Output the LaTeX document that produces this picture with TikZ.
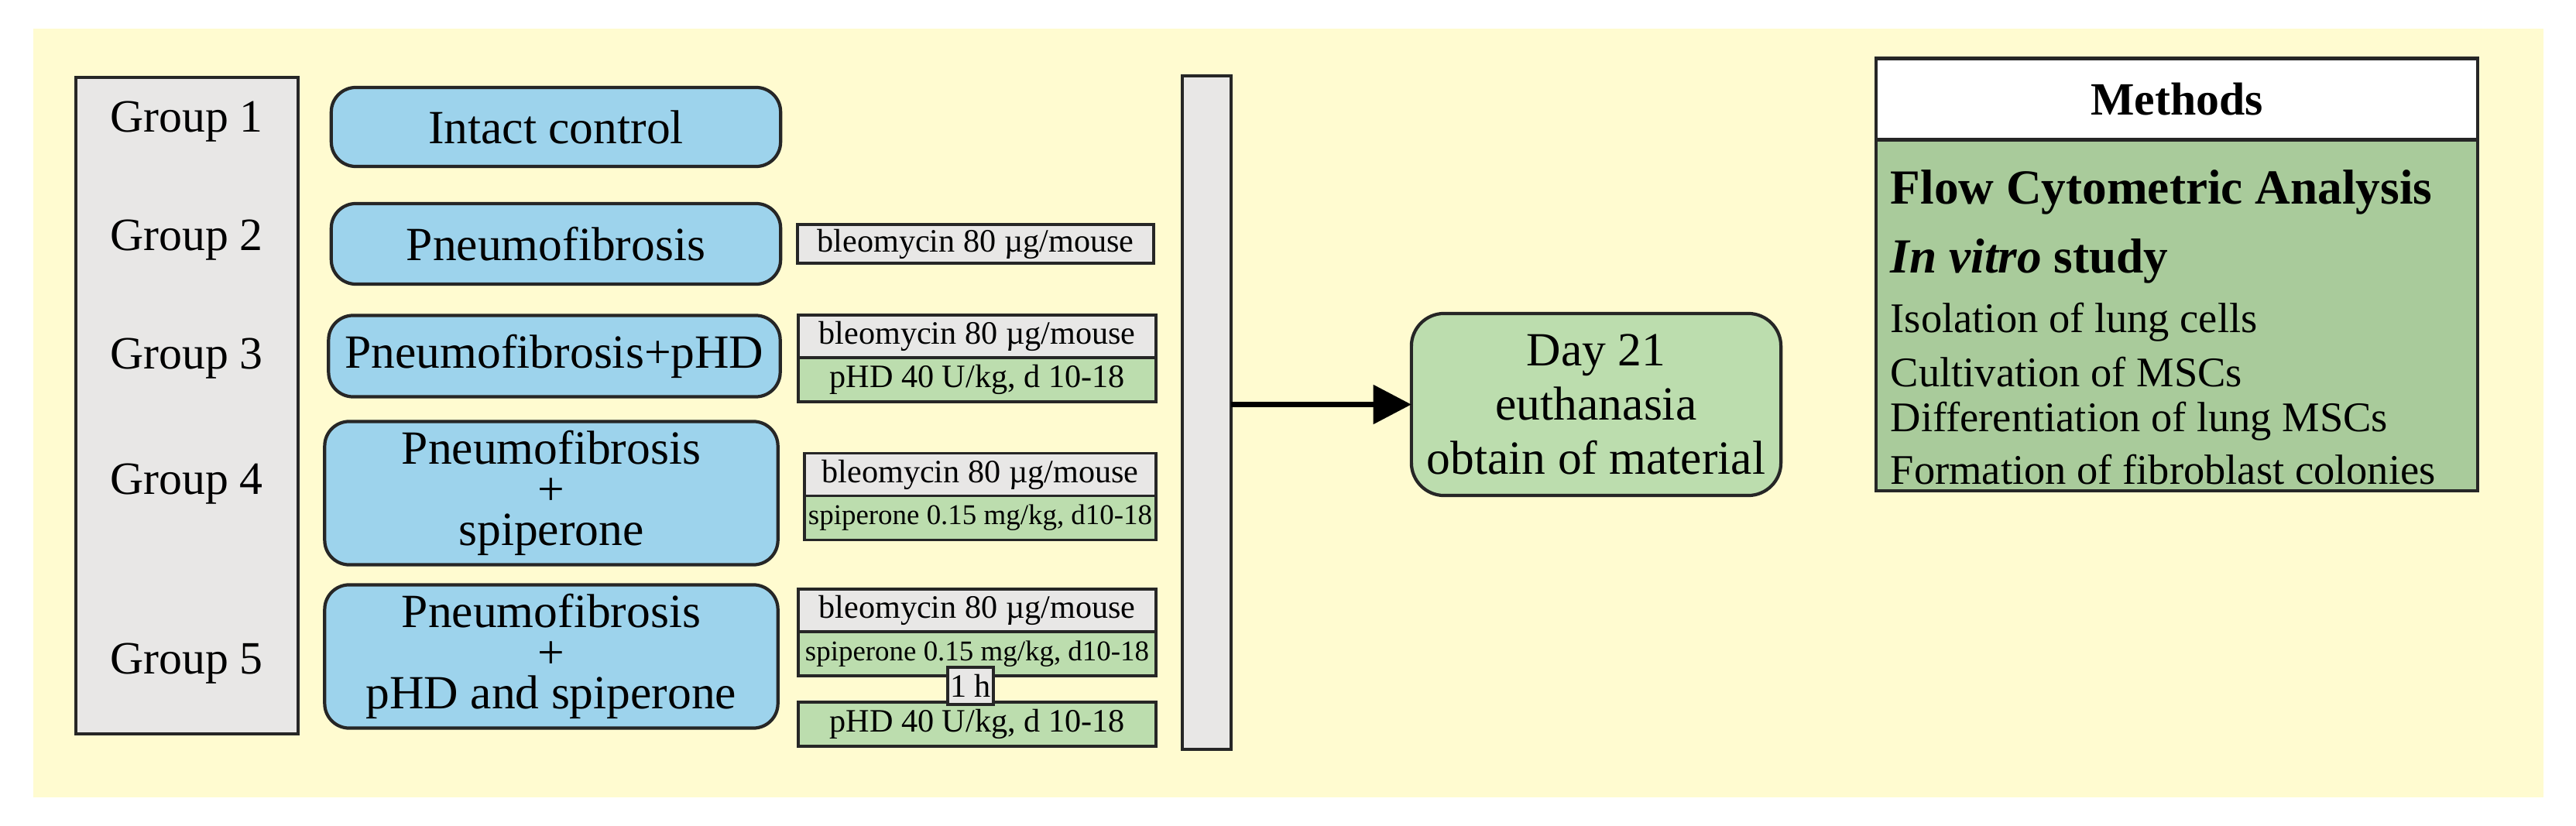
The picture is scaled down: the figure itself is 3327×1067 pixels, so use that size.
\documentclass[tikz,border=0pt]{standalone}
\usepackage{fontspec}
\setmainfont{Liberation Serif}
\usetikzlibrary{arrows.meta}
\definecolor{bgy}{HTML}{FFFBD0}
\definecolor{grayb}{HTML}{E8E7E6}
\definecolor{blueb}{HTML}{9DD3EC}
\definecolor{greenb}{HTML}{BCDDAE}
\definecolor{greenm}{HTML}{A9CB9B}
\begin{document}
\begin{tikzpicture}[x=0.01cm,y=-0.01cm,
  box/.style={draw=black!85,line width=1.2pt,inner sep=0pt,outer sep=0pt,align=center},
  grp/.style={font=\fontsize{17}{19}\selectfont},
  blue/.style={box,fill=blueb,rounded corners=9pt,font=\fontsize{17.5}{17}\selectfont},
  bleo/.style={box,fill=grayb,line width=1pt,font=\fontsize{12}{12}\selectfont,minimum width=4.62cm,minimum height=0.55cm},
  drug/.style={box,fill=greenb,line width=1pt,font=\fontsize{12}{12}\selectfont,minimum width=4.62cm,minimum height=0.57cm},
  spip/.style={drug,font=\fontsize{10.5}{12}\selectfont},
  mline/.style={anchor=west,inner sep=0pt}]
\useasboundingbox (0,0) rectangle (3327,1067);
\fill[bgy] (43,37) rectangle (3285,1030);
% groups column
\node[box,fill=grayb,line width=1pt,minimum width=2.87cm,minimum height=8.48cm] (gcol) at (241.5,524) {};
\node[grp] (g1) at (241,157) {Group 1};
\node[grp] (g2) at (241,310) {Group 2};
\node[grp] (g3) at (241,463) {Group 3};
\node[grp] (g4) at (241,625) {Group 4};
\node[grp] (g5) at (241,857) {Group 5};
% blue boxes
\node[blue,minimum width=5.8cm,minimum height=1.02cm] (b1) at (718,164) {Intact control};
\node[blue,minimum width=5.8cm,minimum height=1.04cm] (b2) at (718,315) {Pneumofibrosis};
\node[blue,minimum width=5.83cm,minimum height=1.05cm] (b3) at (716,460) {Pneumofibrosis+pHD};
\node[blue,minimum width=5.85cm,minimum height=1.85cm] (b4) at (712,637) {Pneumofibrosis\\[-2pt]+\\[-2pt]spiperone};
\node[blue,minimum width=5.85cm,minimum height=1.85cm] (b5) at (712,848) {Pneumofibrosis\\[-2pt]+\\[-2pt]pHD and spiperone};
% dose boxes
\node[bleo,minimum width=4.6cm,minimum height=0.5cm] (d2) at (1260,315) {bleomycin 80 µg/mouse};
\node[bleo] (d3a) at (1262,434.5) {bleomycin 80 µg/mouse};
\node[drug,anchor=north] (d3b) at (d3a.south) {pHD 40 U/kg, d 10-18};
\node[bleo,minimum width=4.54cm] (d4a) at (1266,613) {bleomycin 80 µg/mouse};
\node[spip,minimum width=4.54cm,anchor=north] (d4b) at (d4a.south) {spiperone 0.15 mg/kg, d10-18};
\node[bleo] (d5a) at (1262,788.5) {bleomycin 80 µg/mouse};
\node[spip,anchor=north] (d5b) at (d5a.south) {spiperone 0.15 mg/kg, d10-18};
\node[drug] (d5c) at (1262,935.5) {pHD 40 U/kg, d 10-18};
\node[box,fill=grayb,line width=1pt,font=\fontsize{12}{12}\selectfont,minimum width=0.59cm,minimum height=0.48cm] (h) at (1253.5,886) {1 h};
% vertical bar
\node[box,fill=grayb,line width=1pt,minimum width=0.63cm,minimum height=8.7cm] (bar) at (1558.5,533) {};
% day 21
\node[box,fill=greenb,rounded corners=12pt,minimum width=4.77cm,minimum height=2.35cm,font=\fontsize{17.5}{20}\selectfont] (day) at (2061.5,522.5) {Day 21\\euthanasia\\obtain of material};
\draw[line width=2.2pt,-{Triangle[length=14pt,width=14pt]}] (bar.east |- day.west) -- (day.west);
% methods
\node[box,fill=white,line width=1.2pt,minimum width=7.77cm,minimum height=1.05cm,font=\bfseries\fontsize{17}{19}\selectfont] (mh) at (2811.5,128) {Methods};
\node[box,fill=greenm,line width=1.2pt,minimum width=7.77cm,minimum height=4.53cm,anchor=north] (mb) at (mh.south) {};
\node[mline,font=\bfseries\fontsize{18}{19}\selectfont] (m1) at (2441,248) {Flow Cytometric Analysis};
\node[mline,font=\fontsize{18}{19}\selectfont] (m2) at (2441,337) {\textbf{\textit{In vitro}} \textbf{study}};
\node[mline,font=\fontsize{15.5}{16}\selectfont] (m3) at (2441,416) {Isolation of lung cells};
\node[mline,font=\fontsize{15.5}{16}\selectfont] (m4) at (2441,481) {Cultivation of MSCs};
\node[mline,font=\fontsize{15.5}{16}\selectfont] (m5) at (2441,544) {Differentiation of lung MSCs};
\node[mline,font=\fontsize{15.5}{16}\selectfont] (m6) at (2441,607) {Formation of fibroblast colonies};
\end{tikzpicture}
\end{document}
